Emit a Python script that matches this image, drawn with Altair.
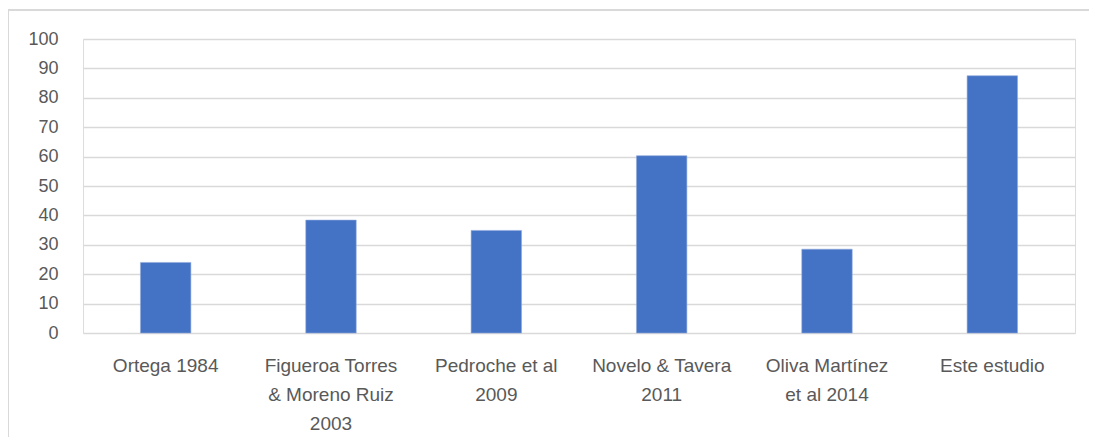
import altair as alt
import pandas as pd

categories = [
    "Ortega 1984",
    "Figueroa Torres\n& Moreno Ruiz\n2003",
    "Pedroche et al\n2009",
    "Novelo & Tavera\n2011",
    "Oliva Martínez\net al 2014",
    "Este estudio",
]
values = [24.0, 38.4, 34.9, 60.3, 28.5, 87.5]

df = pd.DataFrame({"cat": categories, "val": values})

FONT = "Liberation Sans"
GRAY = "#595959"

bars = alt.Chart(df).mark_bar(color="#4472C4", stroke="#8FAADC", strokeWidth=0.6).encode(
    x=alt.X(
        "cat:N",
        sort=categories,
        title=None,
        scale=alt.Scale(paddingInner=0.695, paddingOuter=0.3475),
        axis=alt.Axis(
            labelAngle=0,
            labelExpr="split(datum.label, '\\n')",
            labelFont=FONT,
            labelFontSize=19,
            labelColor=GRAY,
            labelLineHeight=29,
            labelPadding=23,
            labelBaseline="top",
            ticks=False,
            domain=False,
            grid=False,
            labelLimit=0,
        ),
    ),
    y=alt.Y(
        "val:Q",
        title=None,
        scale=alt.Scale(domain=[0, 100], nice=False),
        axis=alt.Axis(
            values=list(range(0, 101, 10)),
            labelFont=FONT,
            labelFontSize=18,
            labelColor=GRAY,
            labelPadding=25,
            ticks=False,
            domain=False,
            gridColor="#d9d9d9",
            gridWidth=1.5,
        ),
    ),
)

frame_top = alt.Chart(df).mark_rule(color="#d9d9d9", strokeWidth=1.5).encode(
    x=alt.value(-75), x2=alt.value(1010), y=alt.value(-29)
)
frame_left = alt.Chart(df).mark_rule(color="#d9d9d9", strokeWidth=1.5).encode(
    x=alt.value(-75), y=alt.value(-29), y2=alt.value(420)
)

chart = (
    alt.layer(bars, frame_top, frame_left)
    .properties(
        width=992,
        height=294,
        autosize=alt.AutoSizeParams(type="none"),
        padding={"left": 75, "top": 31, "right": 14, "bottom": 104},
    )
    .configure_view(stroke=None)
    .configure(background="white")
)

chart.save("out.html", embed_options={"renderer": "svg", "actions": False})
